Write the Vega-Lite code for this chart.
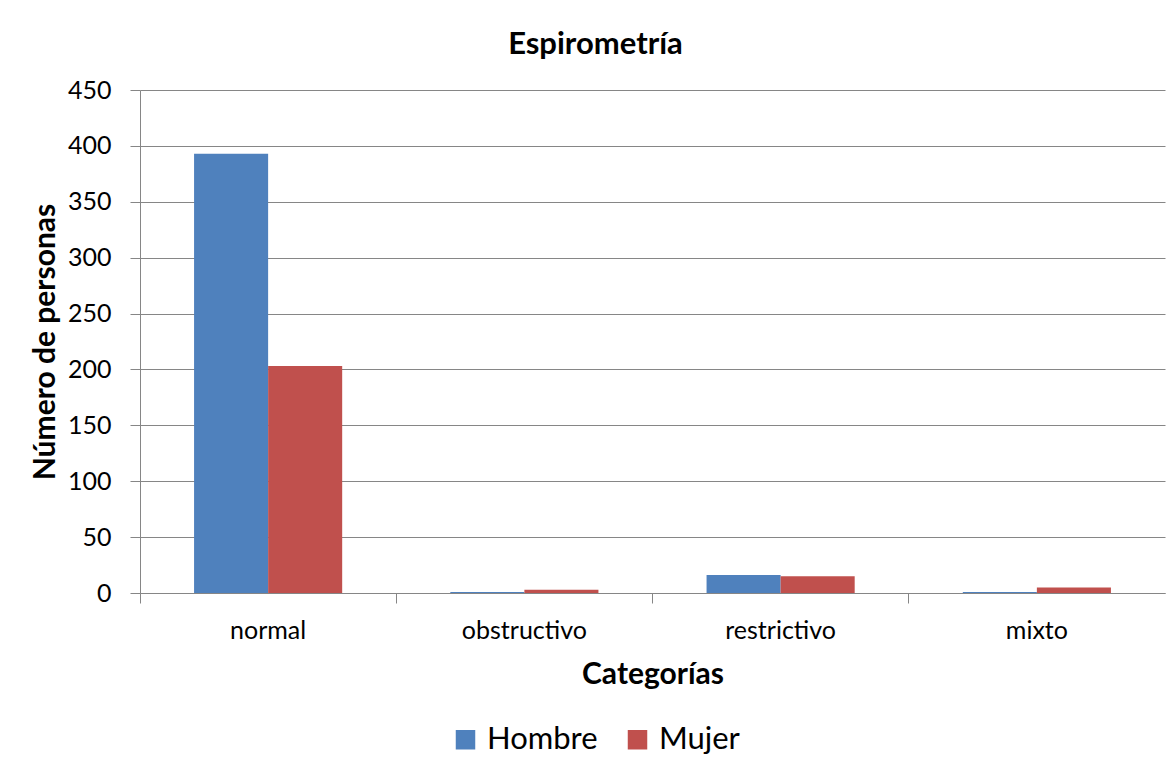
{
  "$schema": "https://vega.github.io/schema/vega-lite/v6.json",
  "width": 1025,
  "height": 503,
  "autosize": {"type": "none"},
  "padding": {"left": 140, "top": 90, "right": 9, "bottom": 178},
  "background": "white",
  "title": {
    "text": "Espirometría",
    "font": "Lato",
    "fontSize": 31,
    "fontWeight": "bold",
    "color": "black",
    "anchor": "middle",
    "dx": -57,
    "baseline": "alphabetic",
    "offset": -7
  },
  "data": {
    "values": [
      {"categoria": "normal", "sexo": "Hombre", "n": 393},
      {"categoria": "normal", "sexo": "Mujer", "n": 203},
      {"categoria": "obstructivo", "sexo": "Hombre", "n": 1},
      {"categoria": "obstructivo", "sexo": "Mujer", "n": 3},
      {"categoria": "restrictivo", "sexo": "Hombre", "n": 16},
      {"categoria": "restrictivo", "sexo": "Mujer", "n": 15},
      {"categoria": "mixto", "sexo": "Hombre", "n": 1},
      {"categoria": "mixto", "sexo": "Mujer", "n": 5}
    ]
  },
  "mark": {"type": "bar"},
  "encoding": {
    "x": {
      "field": "categoria",
      "type": "nominal",
      "sort": ["normal", "obstructivo", "restrictivo", "mixto"],
      "scale": {"paddingInner": 0, "paddingOuter": 0},
      "axis": {
        "title": "Categorías",
        "titleFont": "Lato",
        "titleFontSize": 30,
        "titleFontWeight": "bold",
        "titleColor": "black",
        "titleBaseline": "alphabetic",
        "titleY": 90,
        "labelFont": "Lato",
        "labelFontSize": 25,
        "labelColor": "black",
        "labelAngle": 0,
        "labelPadding": 15,
        "bandPosition": 0,
        "tickSize": 10,
        "tickColor": "#868686",
        "domainColor": "#868686",
        "grid": false
      }
    },
    "xOffset": {
      "field": "sexo",
      "type": "nominal",
      "scale": {"paddingInner": 0, "paddingOuter": 0.73}
    },
    "y": {
      "field": "n",
      "type": "quantitative",
      "scale": {"domain": [0, 450]},
      "axis": {
        "title": "Número de personas",
        "titleFont": "Lato",
        "titleFontSize": 30,
        "titleFontWeight": "bold",
        "titleColor": "black",
        "titleAngle": -90,
        "titleAlign": "center",
        "titleBaseline": "middle",
        "titleX": -95,
        "titleY": 251.5,
        "values": [0, 50, 100, 150, 200, 250, 300, 350, 400, 450],
        "labelFont": "Lato",
        "labelFontSize": 25,
        "labelColor": "black",
        "labelPadding": 19,
        "tickSize": 10,
        "tickColor": "#868686",
        "domainColor": "#868686",
        "gridColor": "#868686",
        "gridOpacity": 1
      }
    },
    "color": {
      "field": "sexo",
      "type": "nominal",
      "scale": {"domain": ["Hombre", "Mujer"], "range": ["#4F81BD", "#C0504D"]},
      "legend": {
        "title": null,
        "orient": "none",
        "direction": "horizontal",
        "legendX": 310,
        "legendY": 634,
        "symbolType": "square",
        "symbolSize": 380,
        "symbolStrokeWidth": 0,
        "symbolOpacity": 1,
        "labelFont": "Lato",
        "labelFontSize": 31,
        "labelColor": "black",
        "labelOffset": 6,
        "columnPadding": 24
      }
    }
  },
  "config": {
    "view": {"stroke": null},
    "axis": {"domainWidth": 1, "tickWidth": 1, "gridWidth": 1}
  }
}
